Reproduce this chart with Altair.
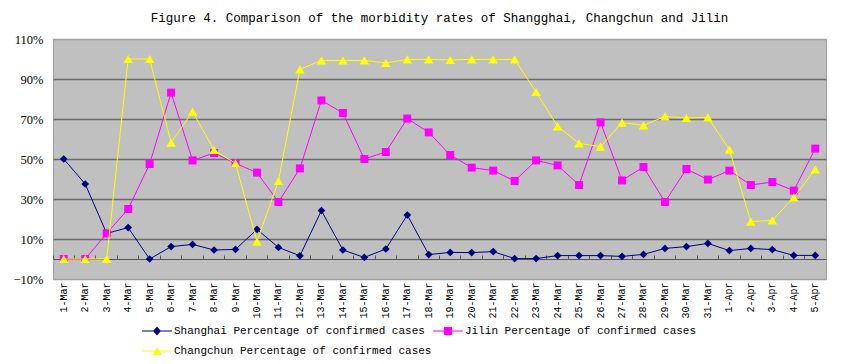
import altair as alt
import pandas as pd

dates = ["1-Mar", "2-Mar", "3-Mar", "4-Mar", "5-Mar", "6-Mar", "7-Mar", "8-Mar", "9-Mar",
         "10-Mar", "11-Mar", "12-Mar", "13-Mar", "14-Mar", "15-Mar", "16-Mar", "17-Mar",
         "18-Mar", "19-Mar", "20-Mar", "21-Mar", "22-Mar", "23-Mar", "24-Mar", "25-Mar",
         "26-Mar", "27-Mar", "28-Mar", "29-Mar", "30-Mar", "31-Mar",
         "1-Apr", "2-Apr", "3-Apr", "4-Apr", "5-Apr"]

series_names = ["Shanghai Percentage of confirmed cases",
                "Jilin Percentage of confirmed cases",
                "Changchun Percentage of confirmed cases"]

shanghai = [50, 37.5, 12.8, 15.7, 0, 6.2, 7.3, 4.5, 4.8, 14.8, 5.8, 1.6, 24.2, 4.5, 0.8,
            5.0, 22.0, 2.2, 3.3, 3.2, 3.7, 0.2, 0.2, 1.7, 1.7, 1.7, 1.3, 2.3, 5.3, 6.2, 7.8,
            4.2, 5.3, 4.7, 1.8, 1.8]
jilin = [0, 0, 12.8, 25, 47.5, 83.2, 49.3, 53, 47.8, 43.2, 28.5, 45.3, 79.3, 73, 50,
         53.5, 70.2, 63.3, 52, 45.7, 44.2, 39, 49.3, 46.8, 37, 68.3, 39.3, 46, 28.5, 45, 39.7,
         44.2, 37, 38.5, 34.2, 55.2]
changchun = [0, 0, 0, 100, 100, 58.2, 73.7, 54.5, 47.8, 8.7, 39, 94.8, 99.3, 99.3, 99.3,
             98, 99.8, 99.8, 99.5, 99.8, 99.8, 99.8, 83.5, 66.3, 57.8, 56.2, 68.2, 66.8, 71.3,
             70.5, 70.8, 54.7, 18.7, 19.3, 30.8, 44.8]

colors = ["#000080", "#FF00FF", "#FFFF00"]
shapes = ["diamond", "square", "triangle-up"]
sizes = [60, 64, 90]
y_ticks = [-10, 10, 30, 50, 70, 90, 110]

# legend symbols: a thin line with the marker on it
legend_paths = [
    "M-1,-0.035H1V0.035H-1Z M0,-0.3L0.26,0L0,0.3L-0.26,0Z",
    "M-1,-0.035H1V0.035H-1Z M-0.27,-0.27H0.27V0.27H-0.27Z",
    "M-1,-0.035H1V0.035H-1Z M0,-0.26L0.3,0.26L-0.3,0.26Z",
]

rows = []
for name, vals in zip(series_names, [shanghai, jilin, changchun]):
    for d, v in zip(dates, vals):
        rows.append({"date": d, "series": name, "value": v})
df = pd.DataFrame(rows)

xs = alt.Scale(type="band", domain=dates, paddingInner=0, paddingOuter=0)
ys = alt.Scale(domain=[-10, 110], nice=False, zero=False)

base = alt.Chart(df)

x_axis_bottom = alt.Axis(
    orient="bottom",
    labelAngle=270, labelFont="Liberation Mono", labelFontSize=10, labelColor="#000000",
    labelPadding=3, ticks=False, domain=False, grid=False, title=None,
)
y_axis = alt.Axis(
    values=y_ticks, format="d", labelExpr="datum.label + '%'",
    labelFont="Liberation Serif, serif", labelFontSize=12.5, labelColor="#000000", labelPadding=10,
    ticks=False, domain=False, grid=True, gridWidth=1.5,
    gridColor={"condition": {"test": "datum.value > 100 || datum.value < 0", "value": "#A0A0A0"},
               "value": "#6a6a6a"},
    title=None,
)

legend_def = alt.Legend(
    orient="none", legendX=89, legendY=277, columns=2, columnPadding=1, rowPadding=-12,
    direction="horizontal",
    symbolSize=900, symbolStrokeWidth=0, labelFont="Liberation Mono", labelFontSize=11,
    labelColor="#000000", labelOffset=2, title=None, padding=0, labelLimit=400,
)

# first layer: carries the axes and the legend (no marks drawn)
guide_layer = base.transform_filter("false").mark_point(filled=True, opacity=1).encode(
    x=alt.X("date:N", scale=xs, sort=dates, axis=x_axis_bottom),
    y=alt.Y("value:Q", scale=ys, axis=y_axis),
    color=alt.Color("series:N", scale=alt.Scale(domain=series_names, range=colors), legend=legend_def),
    shape=alt.Shape("series:N", scale=alt.Scale(domain=series_names, range=legend_paths), legend=legend_def),
)

# second layer: the category axis drawn at 0 with tick marks between categories
zero_axis_layer = base.transform_filter("false").mark_point().encode(
    x=alt.X("date:N", scale=xs, sort=dates,
            axis=alt.Axis(orient="top", offset=-220, labels=False, ticks=True, tickSize=4,
                          bandPosition=0, domain=True, domainColor="#555555",
                          tickColor="#555555", domainWidth=1, grid=False, title=None)),
    y=alt.Y("value:Q", scale=ys, axis=y_axis),
)

layers = []
for i, (name, col, shp, sz) in enumerate(zip(series_names, colors, shapes, sizes)):
    sub = base.transform_filter(alt.datum.series == name)
    line = sub.mark_line(color=col, strokeWidth=1).encode(
        x=alt.X("date:N", scale=xs, sort=dates, axis=None),
        y=alt.Y("value:Q", scale=ys, axis=y_axis),
    )
    pts = sub.mark_point(filled=True, shape=shp, size=sz, color=col, opacity=1).encode(
        x=alt.X("date:N", scale=xs, sort=dates, axis=None),
        y=alt.Y("value:Q", scale=ys, axis=y_axis),
    )
    layers += [line, pts]

chart = alt.layer(guide_layer, zero_axis_layer, *layers).resolve_axis(x="independent").properties(
    width=773, height=240,
    autosize=alt.AutoSizeParams(type="none"),
    padding={"left": 45, "top": 31, "right": 16, "bottom": 77},
    background="#FFFFFF",
    title=alt.TitleParams(
        "Figure 4. Comparison of the morbidity rates of Shangghai, Changchun and Jilin",
        font="Liberation Mono", fontSize=12.5, fontWeight="normal", color="#000000",
        anchor="middle", offset=9,
    ),
).configure_view(fill="#C0C0C0", stroke="#A0A0A0", strokeWidth=1)

chart.save("out.html", embed_options={"renderer": "svg", "actions": False})
